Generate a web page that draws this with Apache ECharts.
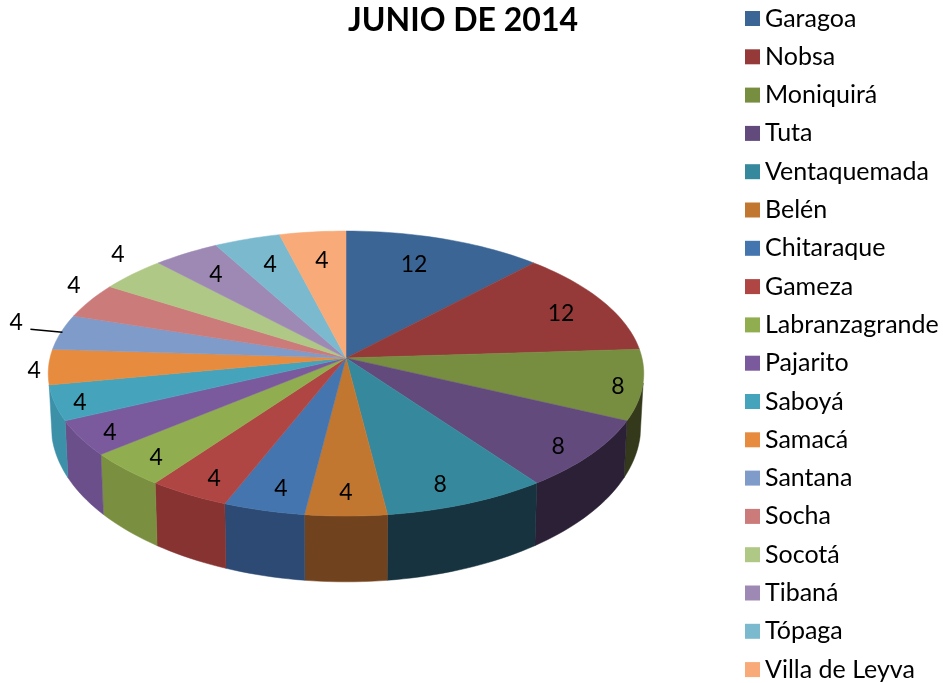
<!DOCTYPE html>
<html>
<head>
<meta charset="utf-8">
<title>Junio de 2014</title>
<script src="https://cdn.jsdelivr.net/npm/echarts@6/dist/echarts.min.js"></script>
<style>
  html, body { margin: 0; padding: 0; background: #fff; }
  #chart { width: 943px; height: 683px; }
</style>
</head>
<body>
<div id="chart"></div>
<script>
var municipios = ['Garagoa', 'Nobsa', 'Moniquirá', 'Tuta', 'Ventaquemada', 'Belén', 'Chitaraque', 'Gameza',
  'Labranzagrande', 'Pajarito', 'Saboyá', 'Samacá', 'Santana', 'Socha', 'Socotá', 'Tibaná', 'Tópaga', 'Villa de Leyva'];
var valores = [12, 12, 8, 8, 8, 4, 4, 4, 4, 4, 4, 4, 4, 4, 4, 4, 4, 4];

var colores = ['#3b6595', '#953a38', '#778d40', '#634a7d', '#36899c', '#c27731', '#4475ae', '#b04644', '#90ae4f',
  '#7a5a9c', '#45a4bc', '#e78b3f', '#7f9bc9', '#ca7b7a', '#afc885', '#9e89b5', '#7bb9ce', '#f8aa78'];
var coloresLado = ['#233c59', '#592322', '#33391a', '#2b2036', '#17333f', '#70431e', '#2c4a73', '#863331', '#7a9040',
  '#6a4f8a', '#3c90a8', '#b06a30', '#60759a', '#9a5d5d', '#85986a', '#786789', '#5d8c9d', '#bd815b'];

// where each label sits: share of the radius, and degrees off the middle of its slice
var etiquetaRadio = [.754, .822, .921, .894, .871, .868, .868, .885, .888, .906, .922, 1.047, 1.174, 1.118, 1.154, .786, .764, .75];
var etiquetaGiro = [-2.4, 1.5, 1.8, 1.8, 2.2, 0, -1.1, -1.4, -1.1, -1.3, -1.6, -1.4, 1.8, 4.2, 3.9, -.7, .4, .5];

var total = valores.reduce(function (a, b) { return a + b; }, 0);

// perspective of the disc
var cx = 346, k = .109;
var arriba = { y: 358, rx: 296, ry: 140.8 };
var abajo = { y: 409, rx: 293, ry: 154 };

function punto(plano, grados, r) {
  var t = grados * Math.PI / 180;
  var u = r * Math.sin(t), v = r * Math.cos(t);
  var d = 1 + k * v;
  return [cx + plano.rx * u / d, plano.y - plano.ry * v / d];
}

function borde(plano, desde, hasta) {
  var pts = [];
  var pasos = Math.ceil((hasta - desde) / 1.5);
  for (var i = 0; i <= pasos; i++) {
    pts.push(punto(plano, desde + (hasta - desde) * i / pasos, 1));
  }
  return pts;
}

function dibujar(i, desde, hasta) {
  var hijos = [];

  // side wall, only the part that faces the viewer
  var a = Math.max(desde, 100), b = Math.min(hasta, 259.2);
  if (a < b) {
    var lado = borde(arriba, a, b).concat(borde(abajo, a, b).reverse());
    hijos.push({
      type: 'polygon',
      z2: 1,
      shape: { points: lado },
      style: { fill: coloresLado[i], stroke: coloresLado[i], lineWidth: .5 }
    });
  }

  var cara = [punto(arriba, 0, 0)].concat(borde(arriba, desde, hasta));
  hijos.push({
    type: 'polygon',
    z2: 2,
    shape: { points: cara },
    style: { fill: colores[i], stroke: colores[i], lineWidth: .5 }
  });

  var medio = (desde + hasta) / 2;
  var p = punto(arriba, medio + etiquetaGiro[i], etiquetaRadio[i]);
  hijos.push({
    type: 'text',
    z2: 4,
    style: {
      x: p[0], y: p[1], text: String(valores[i]),
      align: 'center', verticalAlign: 'middle',
      font: '23px Lato', fill: '#000'
    }
  });

  // labels pushed far out get a leader line back to the rim
  if (etiquetaRadio[i] > 1.16) {
    var p1 = punto(arriba, medio, .995), p2 = punto(arriba, medio, 1.11);
    hijos.push({
      type: 'line',
      z2: 3,
      shape: { x1: p2[0], y1: p2[1], x2: p1[0], y2: p1[1] },
      style: { stroke: '#000', lineWidth: 1.5 }
    });
  }

  return { type: 'group', children: hijos };
}

var acumulado = 0;
var series = municipios.map(function (nombre, i) {
  var desde = acumulado / total * 360;
  acumulado += valores[i];
  var hasta = acumulado / total * 360;
  return {
    name: nombre,
    type: 'custom',
    coordinateSystem: 'none',
    silent: true,
    animation: false,
    itemStyle: { color: colores[i] },
    data: [valores[i]],
    renderItem: function () {
      return dibujar(i, desde, hasta);
    }
  };
});

var myChart = echarts.init(document.getElementById('chart'));

option = {
  animation: false,
  backgroundColor: '#fff',
  title: {
    text: 'JUNIO DE 2014',
    left: 458,
    top: 0,
    textAlign: 'center',
    textStyle: { fontFamily: 'Lato', fontWeight: 'bold', fontSize: 32, color: '#000' }
  },
  legend: {
    orient: 'vertical',
    left: 745,
    top: 6,
    height: 720,
    padding: 0,
    data: municipios,
    icon: 'rect',
    itemWidth: 15,
    itemHeight: 15,
    itemGap: 13.3,
    selectedMode: false,
    textStyle: { fontFamily: 'Lato', fontSize: 25, color: '#000' }
  },
  series: series
};

myChart.setOption(option, true);
</script>
</body>
</html>
